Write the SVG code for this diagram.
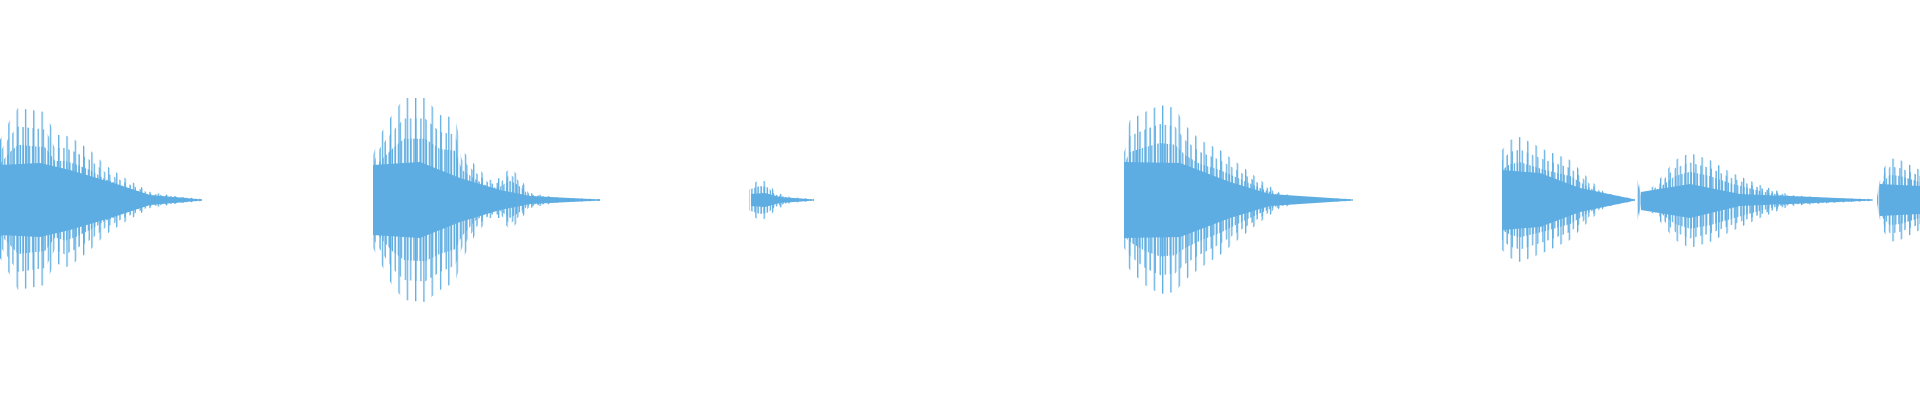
<svg xmlns="http://www.w3.org/2000/svg" width="1920" height="400" viewBox="0 0 1920 400">
<defs>
<pattern id="p1" width="8.3" height="400" patternUnits="userSpaceOnUse"><rect x="0" y="0" width="1.3" height="400" fill="#5DADE2"/></pattern>
<pattern id="p2" width="5.1" height="400" patternUnits="userSpaceOnUse"><rect x="2" y="0" width="1.3" height="400" fill="#5DADE2"/></pattern>
<pattern id="p3" width="3.1" height="400" patternUnits="userSpaceOnUse"><rect x="1" y="0" width="1.4" height="400" fill="#5DADE2"/></pattern>
<style>.o{fill:url(#p1)}.m{fill:url(#p2)}.i{fill:url(#p3)}.c{fill:#5DADE2}</style>
<polygon id="e1" points="0,140 10,120 18,108 45,112 55,135 65,135 75,140 90,150 105,165 125,178 150,192 175,196 202,199 202,201 175,204 150,208 125,222 105,235 90,250 75,262 65,268 55,262 45,285 18,290 10,275 0,258"/>
<polygon id="e2" points="373,155 380,135 392,115 404,98 425,98 440,115 455,118 462,150 475,165 490,180 500,178 510,168 518,175 530,193 560,198 600,199 600,201 560,202 530,208 518,222 510,230 500,218 490,218 475,235 462,260 455,282 440,290 425,302 404,300 392,285 380,262 373,248"/>
<polygon id="e3" points="749,185 760,180 768,182 775,192 790,197 814,199 814,201 790,203 775,210 768,218 760,220 749,215"/>
<polygon id="e4" points="1124,140 1130,120 1145,112 1160,105 1175,108 1185,125 1200,140 1220,150 1240,165 1260,180 1280,193 1300,197 1353,199 1353,201 1300,203 1280,208 1260,222 1240,238 1220,255 1200,268 1185,280 1175,292 1160,294 1145,285 1130,270 1124,260"/>
<polygon id="e5" points="1502,150 1510,140 1520,137 1545,150 1570,160 1590,180 1605,193 1635,199 1635,201 1605,207 1590,220 1570,240 1545,252 1520,262 1510,258 1502,250"/>
<polygon id="e6" points="1637,165 1641,195 1655,185 1675,160 1690,153 1710,160 1730,172 1760,185 1790,195 1830,198 1873,199 1873,201 1830,203 1790,206 1760,218 1730,232 1710,242 1690,248 1675,240 1655,215 1641,205 1637,235"/>
<polygon id="e7" points="1877,195 1880,175 1890,158 1900,160 1920,170 1920,230 1900,240 1890,242 1880,225 1877,205"/>
</defs>
<rect width="1920" height="400" fill="#fff"/>
<g id="b1">
<use href="#e1" class="o"/><use href="#e1" class="m" transform="translate(0,40) scale(1,0.8)"/><use href="#e1" class="i" transform="translate(0,80) scale(1,0.6)"/>
<polygon class="c" points="0,165 40,163 70,170 110,182 150,195 202,199.5 202,200.5 150,205 110,218 70,230 40,237 0,235"/>
</g>
<g id="b2">
<use href="#e2" class="o"/><use href="#e2" class="m" transform="translate(0,40) scale(1,0.8)"/><use href="#e2" class="i" transform="translate(0,80) scale(1,0.6)"/>
<polygon class="c" points="373,165 420,162 460,178 500,190 530,196 600,199.5 600,200.5 530,204 500,210 460,222 420,238 373,235"/>
</g>
<g id="b3">
<use href="#e3" class="o"/><use href="#e3" class="i" transform="translate(0,60) scale(1,0.7)"/>
<polygon class="c" points="751,194 765,193 780,197 814,199.5 814,200.5 780,203 765,207 751,206"/>
</g>
<g id="b4">
<use href="#e4" class="o"/><use href="#e4" class="m" transform="translate(0,40) scale(1,0.8)"/><use href="#e4" class="i" transform="translate(0,80) scale(1,0.6)"/>
<polygon class="c" points="1124,162 1180,163 1230,182 1270,194 1353,199.5 1353,200.5 1270,206 1230,218 1180,237 1124,238"/>
</g>
<g id="b5">
<use href="#e5" class="o"/><use href="#e5" class="m" transform="translate(0,40) scale(1,0.8)"/><use href="#e5" class="i" transform="translate(0,80) scale(1,0.6)"/>
<polygon class="c" points="1502,170 1540,173 1580,188 1635,199.5 1635,200.5 1580,212 1540,227 1502,230"/>
</g>
<g id="b6">
<use href="#e6" class="o"/><use href="#e6" class="m" transform="translate(0,40) scale(1,0.8)"/><use href="#e6" class="i" transform="translate(0,80) scale(1,0.6)"/>
<polygon class="c" points="1641,192 1690,184 1740,194 1873,199.5 1873,200.5 1740,206 1690,218 1641,210"/>
</g>
<g id="b7">
<use href="#e7" class="o"/><use href="#e7" class="m" transform="translate(0,40) scale(1,0.8)"/><use href="#e7" class="i" transform="translate(0,80) scale(1,0.6)"/>
<polygon class="c" points="1880,184 1920,186 1920,214 1880,216"/>
</g>
</svg>
